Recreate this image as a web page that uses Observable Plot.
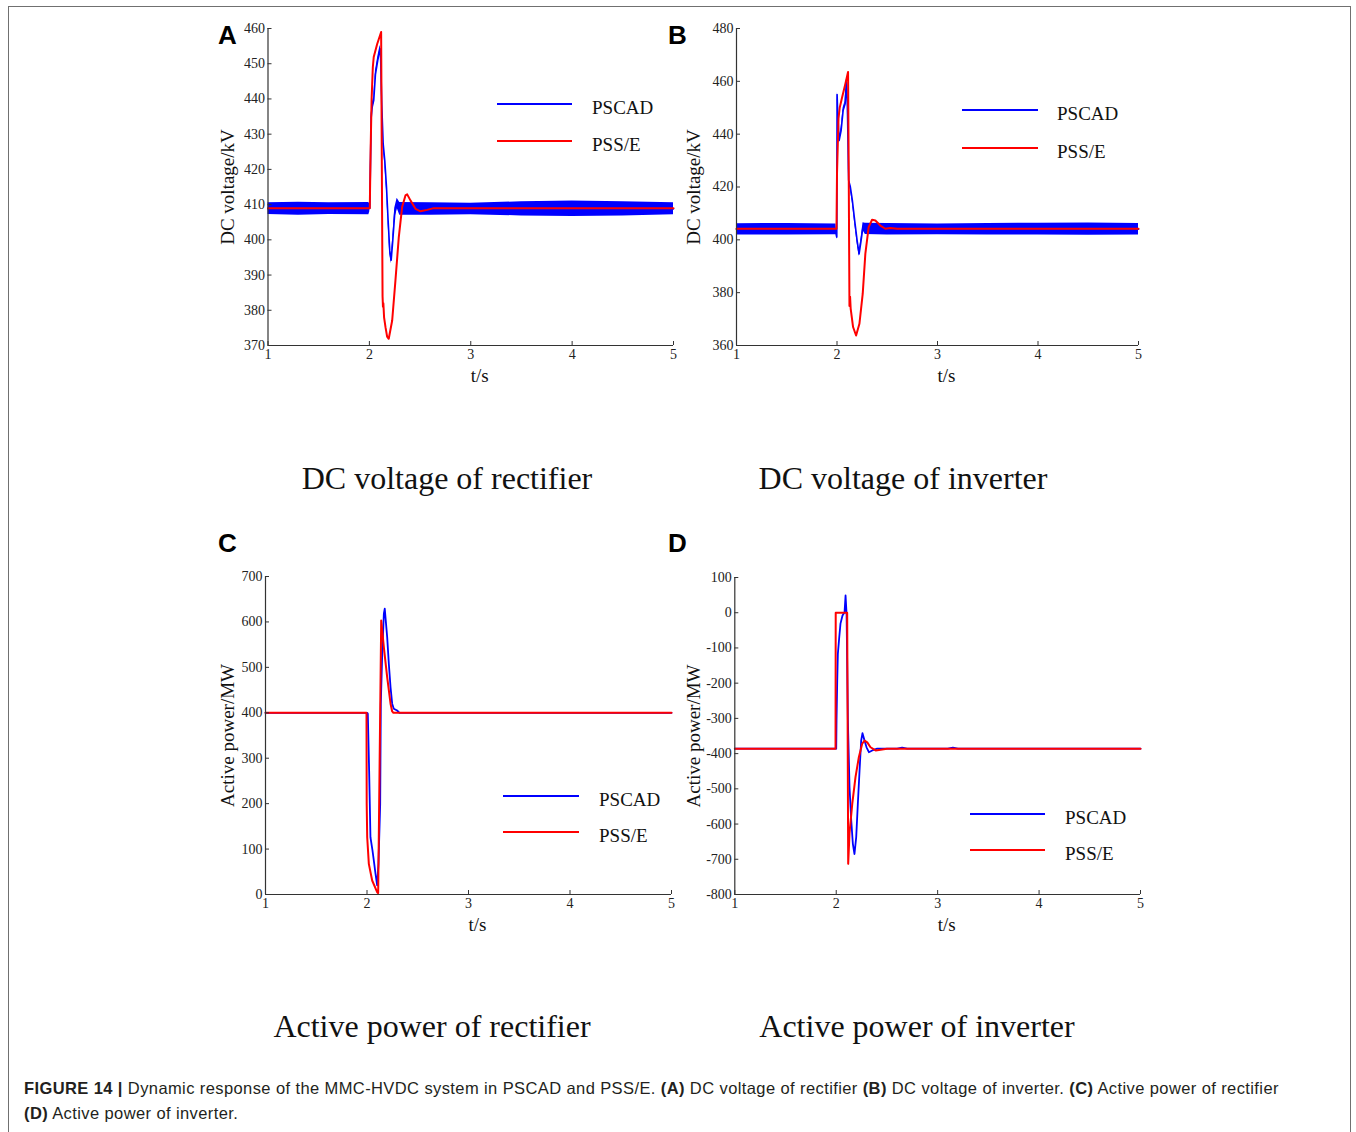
<!DOCTYPE html>
<html>
<head>
<meta charset="utf-8">
<script src="https://cdn.jsdelivr.net/npm/d3@7"></script>
<script src="https://cdn.jsdelivr.net/npm/@observablehq/plot@0.6"></script>
<style>
  html, body { margin: 0; padding: 0; background: #fff; }
  body { width: 1356px; height: 1132px; position: relative; overflow: hidden; }
  .frame { position: absolute; left: 8px; top: 6px; width: 1343px; height: 1300px;
           border: 1.5px solid #707070; box-sizing: border-box; }
  .abs { position: absolute; }
  .abs svg text { font-family: "Liberation Serif", "Times New Roman", serif !important; }
  .abs svg g[aria-label$="tick label"] text { font-size: 14px !important; fill: #222; }
  .letter { position: absolute; font-family: "Liberation Sans", Arial, sans-serif; font-weight: bold;
            font-size: 26px; line-height: 26px; color: #000; }
  .sub { position: absolute; font-family: "Liberation Serif", "Times New Roman", serif; font-size: 32px;
         color: #111; transform: translate(-50%, -50%); white-space: nowrap; }
  .leg { position: absolute; font-family: "Liberation Serif", "Times New Roman", serif; font-size: 19px; color: #111; }
  .cap { position: absolute; left: 24px; top: 1076px; font-family: "Liberation Sans", Arial, sans-serif;
         font-size: 16.5px; letter-spacing: 0.4px; line-height: 25px; color: #231f20; white-space: nowrap; }
</style>
</head>
<body>
<div class="frame"></div>
<div id="root"></div>
<script>
// ---------------- data ----------------
const xTicks = [1, 2, 3, 4, 5];

// Panel A: DC voltage of rectifier (kV)
const A_yTicks = [370, 380, 390, 400, 410, 420, 430, 440, 450, 460];
// PSCAD: [t, low, high] envelope of the noisy trace
const A_pscad = [
  [1, 407.2, 410.5], [1.3, 407.0, 410.7], [1.6, 407.2, 410.5], [1.995, 407.1, 410.6],
  [2.004, 408, 410], [2.018, 433.8, 435.8], [2.028, 436.7, 438.7], [2.043, 438.6, 440.6],
  [2.060, 446, 448], [2.083, 450, 452], [2.103, 452.8, 454.8], [2.109, 453.2, 455.2],
  [2.122, 437.5, 439.5], [2.136, 426.3, 428.3], [2.152, 421.5, 423.5], [2.169, 413.9, 415.9],
  [2.185, 404.5, 406.5], [2.201, 396, 398], [2.215, 393.2, 395.2], [2.231, 398.8, 400.8],
  [2.250, 405.8, 409], [2.274, 409, 411.8], [2.300, 407, 410.6], [2.6, 407, 410.5],
  [3.0, 407.1, 410.4], [3.5, 406.8, 410.8], [4.0, 406.6, 411], [4.5, 406.8, 410.8], [5, 407.1, 410.5]
];
const A_psse = [
  [1, 409], [2.004, 409], [2.012, 425], [2.022, 440], [2.034, 449], [2.043, 451.9], [2.077, 455.6],
  [2.116, 459], [2.123, 420], [2.130, 384], [2.134, 381], [2.138, 382], [2.145, 378], [2.159, 375.2],
  [2.175, 372.5], [2.191, 371.9], [2.225, 377.1], [2.257, 388.4], [2.290, 400.7], [2.323, 409.3],
  [2.356, 412.6], [2.373, 412.9], [2.405, 411.2], [2.455, 408.8], [2.504, 408.1], [2.570, 408.5],
  [2.635, 409], [5, 409]
];

// Panel B: DC voltage of inverter (kV)
const B_yTicks = [360, 380, 400, 420, 440, 460, 480];
const B_pscad = [
  [1, 401.8, 406.1], [1.5, 401.8, 406.2], [1.99, 401.9, 406], [1.998, 400, 402],
  [2.001, 454, 456], [2.006, 446, 452], [2.021, 436.6, 438.6], [2.041, 440.4, 442.4],
  [2.061, 448, 450], [2.081, 450.5, 452.5], [2.093, 459, 461], [2.103, 450.5, 452.5],
  [2.116, 421.5, 423.5], [2.133, 419, 421], [2.153, 413.9, 415.9], [2.176, 406.3, 408.3],
  [2.200, 398.8, 400.8], [2.220, 393.7, 395.7], [2.240, 398.8, 400.8], [2.259, 403.5, 406.5],
  [2.282, 402, 406.3], [2.5, 401.8, 406.2], [3, 401.9, 406], [3.5, 401.8, 406.2],
  [4, 401.8, 406.3], [4.5, 401.7, 406.4], [5, 401.8, 406.2]
];
const B_psse = [
  [1, 404.2], [1.995, 404.2], [2.000, 425], [2.015, 446], [2.027, 450], [2.051, 454], [2.083, 459],
  [2.110, 463.5], [2.116, 430], [2.124, 375], [2.130, 378.5], [2.136, 374], [2.160, 367],
  [2.190, 363.8], [2.223, 368.2], [2.256, 379.6], [2.282, 394.7], [2.315, 404.8], [2.349, 407.6],
  [2.382, 407.3], [2.431, 405.4], [2.481, 404.2], [2.531, 404.5], [2.6, 404.2], [5, 404.2]
];

// Panel C: active power of rectifier (MW)
const C_yTicks = [0, 100, 200, 300, 400, 500, 600, 700];
const C_pscad = [
  [1, 400], [2.002, 400], [2.008, 398], [2.021, 273], [2.034, 126], [2.054, 97], [2.067, 75],
  [2.084, 45.5], [2.100, 20], [2.113, 67.5], [2.130, 200], [2.136, 420], [2.150, 530],
  [2.166, 618], [2.175, 629], [2.199, 566], [2.215, 508], [2.232, 456], [2.248, 420],
  [2.264, 409], [2.297, 405], [2.32, 400], [5, 400]
];
const C_psse = [
  [1, 400], [1.995, 400], [1.997, 200], [2.002, 126], [2.018, 67.5], [2.051, 30.8],
  [2.100, 5], [2.110, 3], [2.140, 603], [2.166, 544], [2.199, 478], [2.232, 420],
  [2.248, 403], [2.26, 400], [5, 400]
];

// Panel D: active power of inverter (MW)
const D_yTicks = [-800, -700, -600, -500, -400, -300, -200, -100, 0, 100];
const D_pscad = [
  [1, -386], [2.0, -386], [2.003, -306], [2.010, -192], [2.016, -117], [2.030, -69],
  [2.042, -31], [2.062, -8], [2.082, 1.5], [2.092, 49], [2.102, -3], [2.115, -306],
  [2.131, -495], [2.148, -590], [2.164, -656], [2.180, -685], [2.197, -637], [2.213, -543],
  [2.230, -448], [2.246, -363], [2.259, -342], [2.279, -363], [2.299, -382], [2.322, -396],
  [2.355, -391], [2.404, -386], [2.6, -386], [2.65, -383], [2.7, -386], [3.1, -386],
  [3.15, -383], [3.2, -386], [5, -386]
];
const D_psse = [
  [1, -386], [1.993, -386], [1.995, 0], [2.108, 0], [2.118, -713], [2.131, -626],
  [2.158, -543], [2.190, -467], [2.223, -410], [2.256, -372], [2.279, -363], [2.306, -368],
  [2.338, -382], [2.388, -391], [2.437, -389], [2.5, -386], [5, -386]
];

const seriesNames = ["PSCAD", "PSS/E"];
const seriesColors = ["#0000ff", "#ff0000"];

// ---------------- drawing ----------------
const root = document.getElementById("root");
const SERIF = "Liberation Serif, Times New Roman, serif";

function panel(cfg) {
  const marks = [];
  if (cfg.band) {
    marks.push(Plot.areaY(cfg.pscad, {x: d => d[0], y1: d => d[1], y2: d => d[2], fill: seriesColors[0]}));
    marks.push(Plot.line(cfg.pscad, {x: d => d[0], y: d => (d[1] + d[2]) / 2, stroke: seriesColors[0], strokeWidth: 1.6}));
  } else {
    marks.push(Plot.line(cfg.pscad, {x: d => d[0], y: d => d[1], stroke: seriesColors[0], strokeWidth: 1.8}));
  }
  marks.push(Plot.line(cfg.psse, {x: d => d[0], y: d => d[1], stroke: seriesColors[1], strokeWidth: 2}));
  marks.push(Plot.ruleX([cfg.xdom[0]], {stroke: "#333", strokeWidth: 1.2}));
  marks.push(Plot.ruleY([cfg.ydom[0]], {stroke: "#333", strokeWidth: 1.2}));
  marks.push(Plot.axisX({ticks: xTicks, tickSize: -4, tickPadding: 8, label: null, stroke: "#333",
                         fontFamily: SERIF, fontSize: 14, fill: "#222", tickFormat: d => String(d)}));
  marks.push(Plot.axisY({ticks: cfg.yticks, tickSize: -4, tickPadding: 7, label: null, stroke: "#333",
                         fontFamily: SERIF, fontSize: 14, fill: "#222", tickFormat: d => String(d)}));
  marks.push(Plot.text([cfg.ylabel], {frameAnchor: "left", textAnchor: "middle", dx: cfg.ylabelDx, rotate: -90,
                                      fontSize: 19, fontFamily: SERIF, fill: "#111"}));
  marks.push(Plot.text(["t/s"], {frameAnchor: "bottom", textAnchor: "middle", dy: 30, dx: 9, lineAnchor: "middle",
                                 fontSize: 19, fontFamily: SERIF, fill: "#111"}));

  const chart = Plot.plot({
    width: cfg.w, height: cfg.h,
    marginLeft: cfg.ml, marginRight: cfg.mr, marginTop: cfg.mt, marginBottom: cfg.mb,
    x: {domain: cfg.xdom},
    y: {domain: cfg.ydom},
    style: {fontFamily: SERIF, fontSize: "14px", color: "#222", background: "transparent", overflow: "visible"},
    marks
  });
  const wrap = document.createElement("div");
  wrap.className = "abs";
  wrap.style.left = cfg.left + "px";
  wrap.style.top = cfg.top + "px";
  wrap.appendChild(chart);
  root.appendChild(wrap);
}

function legend(x1, x2, y1, y2, tx) {
  [y1, y2].forEach((y, i) => {
    const svg = document.createElementNS("http://www.w3.org/2000/svg", "svg");
    svg.setAttribute("width", x2 - x1);
    svg.setAttribute("height", 4);
    svg.style.position = "absolute";
    svg.style.left = x1 + "px";
    svg.style.top = (y - 2) + "px";
    const ln = document.createElementNS("http://www.w3.org/2000/svg", "line");
    ln.setAttribute("x1", 0); ln.setAttribute("x2", x2 - x1);
    ln.setAttribute("y1", 2); ln.setAttribute("y2", 2);
    ln.setAttribute("stroke", seriesColors[i]); ln.setAttribute("stroke-width", 2);
    svg.appendChild(ln);
    root.appendChild(svg);
    const t = document.createElement("div");
    t.className = "leg";
    t.textContent = seriesNames[i];
    t.style.left = tx + "px";
    t.style.top = (y + 4) + "px";
    t.style.transform = "translateY(-50%)";
    root.appendChild(t);
  });
}

function addText(cls, txt, x, y) {
  const d = document.createElement("div");
  d.className = cls;
  d.textContent = txt;
  d.style.left = x + "px";
  d.style.top = y + "px";
  root.appendChild(d);
}

panel({left: 190, top: 10, w: 500, h: 400, ml: 77.5, mr: 17, mt: 18, mb: 65,
       xdom: [1, 5], ydom: [370, 460], yticks: A_yTicks, ylabel: "DC voltage/kV", ylabelDx: -40,
       pscad: A_pscad, psse: A_psse, band: true});
panel({left: 650, top: 10, w: 510, h: 400, ml: 86, mr: 22, mt: 18, mb: 65,
       xdom: [1, 5], ydom: [360, 480], yticks: B_yTicks, ylabel: "DC voltage/kV", ylabelDx: -43,
       pscad: B_pscad, psse: B_psse, band: true});
panel({left: 190, top: 560, w: 500, h: 400, ml: 75, mr: 19, mt: 16, mb: 66,
       xdom: [1, 5], ydom: [0, 700], yticks: C_yTicks, ylabel: "Active power/MW", ylabelDx: -38,
       pscad: C_pscad, psse: C_psse, band: false});
panel({left: 650, top: 560, w: 510, h: 400, ml: 84.3, mr: 20, mt: 17, mb: 66,
       xdom: [1, 5], ydom: [-800, 100], yticks: D_yTicks, ylabel: "Active power/MW", ylabelDx: -41,
       pscad: D_pscad, psse: D_psse, band: false});

legend(497, 572, 104, 141, 592);
legend(962, 1038, 110, 148, 1057);
legend(503, 579, 796, 832, 599);
legend(970, 1045, 814, 850, 1065);

addText("letter", "A", 218, 22);
addText("letter", "B", 668, 22);
addText("letter", "C", 218, 530);
addText("letter", "D", 668, 530);

addText("sub", "DC voltage of rectifier", 447, 478);
addText("sub", "DC voltage of inverter", 903, 478);
addText("sub", "Active power of rectifier", 432, 1026);
addText("sub", "Active power of inverter", 917, 1026);

const cap = document.createElement("div");
cap.className = "cap";
cap.innerHTML = "<b>FIGURE 14 |</b> Dynamic response of the MMC-HVDC system in PSCAD and PSS/E. <b>(A)</b> DC voltage of rectifier <b>(B)</b> DC voltage of inverter. <b>(C)</b> Active power of rectifier<br><b>(D)</b> Active power of inverter.";
root.appendChild(cap);
</script>
</body>
</html>
